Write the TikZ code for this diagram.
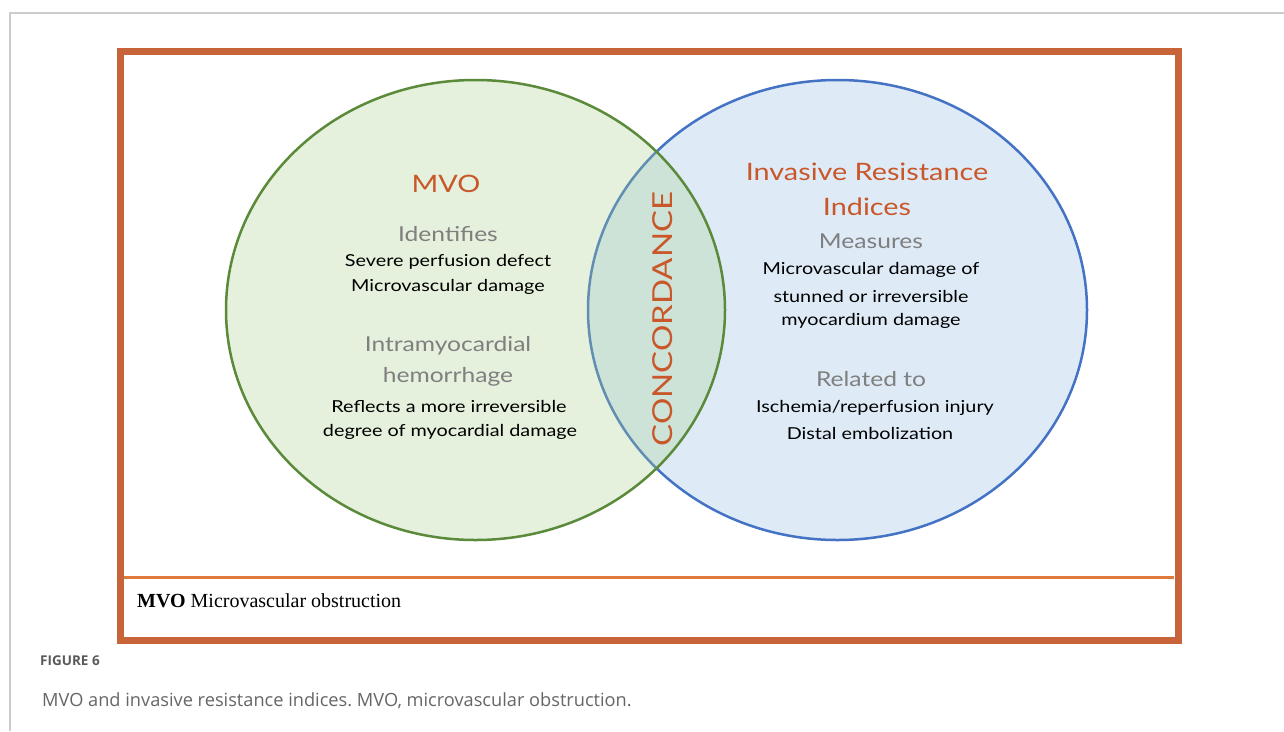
\documentclass[tikz,border=0pt]{standalone}
\usepackage{fontspec}
\setmainfont{Liberation Serif}
\newfontfamily\handfont[FakeStretch=1.2]{Lato}
\newfontfamily\capfont{Open Sans}
\frenchspacing
\definecolor{boxor}{HTML}{C8643A}
\definecolor{divor}{HTML}{E07A3C}
\definecolor{titleor}{HTML}{C9572A}
\definecolor{grayt}{HTML}{7F7F7F}
\definecolor{bluefill}{HTML}{DEEBF7}
\definecolor{bluestroke}{HTML}{4472C4}
\definecolor{greenfill}{HTML}{A9D18E}
\definecolor{greenstroke}{HTML}{5A8A3A}
\definecolor{framegray}{HTML}{CCCCCC}
\definecolor{capgray}{HTML}{666666}
\definecolor{figgray}{HTML}{5A5A5A}
\tikzset{
  title/.style={text=titleor, font=\handfont\fontsize{24}{28}\selectfont, inner sep=0pt},
  head/.style={text=grayt, font=\handfont\fontsize{20.5}{24}\selectfont, inner sep=0pt},
  body/.style={text=black, font=\handfont\fontsize{16.5}{20}\selectfont, inner sep=0pt},
}
\begin{document}
\begin{tikzpicture}[x=1pt,y=-1pt]
\useasboundingbox (0,0) rectangle (1284,731);
\fill[white] (0,0) rectangle (1284,731);
% outer gray frame (left and top only)
\draw[framegray, line width=1.5pt] (10,731) -- (10,13) -- (1284,13);
% circles
\draw[bluestroke, fill=bluefill, line width=2.5pt] (837.5,310) ellipse [x radius=249.5, y radius=230];
\fill[greenfill, opacity=0.3] (475.5,310) ellipse [x radius=249.5, y radius=230];
\draw[greenstroke, line width=2.5pt] (475.5,310) ellipse [x radius=249.5, y radius=230];
% orange box
\draw[boxor, line width=7pt] (120.5,51.5) rectangle (1178,640.5);
\draw[divor, line width=3pt] (124,577) -- (1174,577);
% left texts
\node[title] (mvo) at (446,184) {MVO};
\node[head] (ident) at (448,234) {Identifies};
\node[body] (sev) at (448,262) {Severe perfusion defect};
\node[body] (micro) at (448,287) {Microvascular damage};
\node[head] (intra) at (448,346) {Intramyocardial};
\node[head] (hem) at (448,377) {hemorrhage};
\node[body] (refl) at (449,406) {Reflects a more irreversible};
\node[body] (deg) at (450,432) {degree of myocardial damage};
% right texts
\node[title] (inv) at (867,172) {Invasive Resistance};
\node[title] (ind) at (867,207) {Indices};
\node[head] (meas) at (871,241) {Measures};
\node[body] (mdo) at (871,270) {Microvascular damage of};
\node[body] (stun) at (871,296) {stunned or irreversible};
\node[body] (myo) at (871,321) {myocardium damage};
\node[head] (rel) at (871,379) {Related to};
\node[body] (isch) at (875,408) {Ischemia/reperfusion injury};
\node[body] (dist) at (870,433) {Distal embolization};
% concordance
\node[rotate=90, text=titleor, font=\handfont\fontsize{27.5}{32}\selectfont, inner sep=0pt] (conc) at (663,319) {CONCORDANCE};
% legend
\node[anchor=west, inner sep=0pt, font=\fontsize{20}{24}\selectfont] (leg) at (137,601) {\textbf{MVO} Microvascular obstruction};
% caption
\node[anchor=west, inner sep=0pt, text=figgray, font=\capfont\fontsize{13.5}{16}\selectfont\bfseries] (fig) at (40,661) {FIGURE 6};
\node[anchor=west, inner sep=0pt, text=capgray, font=\capfont\fontsize{18.2}{22}\selectfont] (cap) at (42,701) {MVO and invasive resistance indices. MVO, microvascular obstruction.};
\end{tikzpicture}
\end{document}
